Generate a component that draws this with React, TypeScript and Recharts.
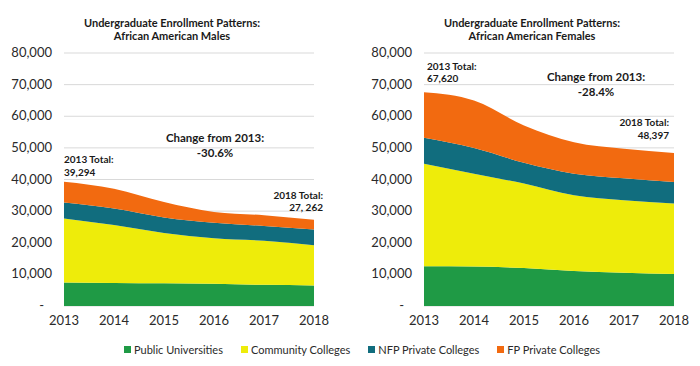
import React from "react";
import { AreaChart, Area, XAxis, YAxis, CartesianGrid } from "recharts";

const years = ["2013", "2014", "2015", "2016", "2017", "2018"];
const yTicks = [0, 10000, 20000, 30000, 40000, 50000, 60000, 70000, 80000];

const malePublic = [7400, 7300, 7200, 7000, 6700, 6500];
const maleCommunity = [20300, 18300, 15900, 14400, 13900, 12700];
const maleNFP = [5000, 5200, 4900, 4900, 4700, 5000];
const maleFP = [6594, 6300, 4900, 3450, 3400, 3062];

const femalePublic = [12600, 12500, 12000, 11100, 10500, 10100];
const femaleCommunity = [32400, 29350, 26700, 23900, 22900, 22300];
const femaleNFP = [8200, 8100, 6600, 6850, 7000, 6800];
const femaleFP = [14420, 15050, 11800, 9950, 9350, 9197];

const seriesNames = ["Public Universities", "Community Colleges", "NFP Private Colleges", "FP Private Colleges"];
const seriesKeys = ["pub", "cc", "nfp", "fp"];
const colors = ["#1f9a45", "#eeec0a", "#116d7e", "#f26a10"];

const build = (a: number[], b: number[], c: number[], d: number[]) =>
  years.map((y, i) => ({ year: y, pub: a[i], cc: b[i], nfp: c[i], fp: d[i] }));

const maleData = build(malePublic, maleCommunity, maleNFP, maleFP);
const femaleData = build(femalePublic, femaleCommunity, femaleNFP, femaleFP);

const FONT = "Lato, 'DejaVu Sans', sans-serif";

const YTick = (props: any) => {
  const { x, y, payload } = props;
  const v = payload.value;
  const label = v === 0 ? "-" : v.toLocaleString("en-US");
  return (
    <text x={v === 0 ? x - 8 : x} y={y} dy={4} textAnchor="end" fontSize={13} fill="#2a2a2a" fontFamily={FONT}>
      {label}
    </text>
  );
};

const Chart = ({ data }: { data: any[] }) => (
  <AreaChart width={340} height={340} data={data} margin={{ top: 53, right: 26, bottom: 4, left: 0 }}>
    <CartesianGrid vertical={false} stroke="#d9d9d9" />
    <XAxis
      dataKey="year"
      axisLine={false}
      tickLine={false}
      height={30}
      tickMargin={4}
      padding={{ left: 0, right: 0 }}
      tick={{ fontSize: 13, fill: "#2a2a2a", fontFamily: FONT }}
      interval={0}
    />
    <YAxis
      width={64}
      domain={[0, 80000]}
      ticks={yTicks}
      axisLine={false}
      tickLine={false}
      tickMargin={6}
      tick={<YTick />}
      interval={0}
    />
    {seriesKeys.map((k, i) => (
      <Area
        key={k}
        type="monotone"
        dataKey={k}
        stackId="1"
        stroke="none"
        fill={colors[i]}
        fillOpacity={1}
        isAnimationActive={false}
      />
    ))}
  </AreaChart>
);

const abs = (left: number, top: number, extra: React.CSSProperties = {}): React.CSSProperties => ({
  position: "absolute",
  left,
  top,
  fontFamily: FONT,
  fontWeight: 700,
  color: "#1a1a1a",
  whiteSpace: "nowrap",
  ...extra,
});

export default function App() {
  return (
    <div style={{ position: "absolute", left: 0, top: 0, width: 700, height: 366, background: "#fff", overflow: "hidden", fontFamily: FONT }}>
      <div style={{ position: "absolute", left: 0, top: 0 }}>
        <Chart data={maleData} />
      </div>
      <div style={{ position: "absolute", left: 360, top: 0 }}>
        <Chart data={femaleData} />
      </div>

      {/* Titles */}
      <div style={abs(72, 16, { width: 200, textAlign: "center", fontSize: 11, lineHeight: "13px" })}>
        Undergraduate Enrollment Patterns:
        <br />
        African American Males
      </div>
      <div style={abs(432, 16, { width: 200, textAlign: "center", fontSize: 11, lineHeight: "13px" })}>
        Undergraduate Enrollment Patterns:
        <br />
        African American Females
      </div>

      {/* Left annotations */}
      <div style={abs(155, 130, { width: 120, textAlign: "center", fontSize: 11.5, lineHeight: "15px" })}>
        Change from 2013:
        <br />
        -30.6%
      </div>
      <div style={abs(64, 153, { fontSize: 10, lineHeight: "13px" })}>
        2013 Total:
        <br />
        39,294
      </div>
      <div style={abs(223, 189, { width: 100, textAlign: "right", fontSize: 10, lineHeight: "12px" })}>
        2018 Total:
        <br />
        27, 262
      </div>

      {/* Right annotations */}
      <div style={abs(427, 60, { fontSize: 10, lineHeight: "12px" })}>
        2013 Total:
        <br />
        67,620
      </div>
      <div style={abs(536, 69, { width: 120, textAlign: "center", fontSize: 11.5, lineHeight: "15px" })}>
        Change from 2013:
        <br />
        -28.4%
      </div>
      <div style={abs(569, 116, { width: 100, textAlign: "right", fontSize: 10, lineHeight: "13px" })}>
        2018 Total:
        <br />
        48,397
      </div>

      {/* Legend */}
      <div style={{ position: "absolute", left: 0, top: 341, width: 724, height: 16, display: "flex", justifyContent: "center", gap: 18 }}>
        {seriesNames.map((name, i) => (
          <div key={i} style={{ display: "flex", alignItems: "center", height: 16, fontFamily: FONT, fontSize: 11, color: "#2a2a2a", whiteSpace: "nowrap" }}>
            <span style={{ display: "inline-block", width: 7, height: 7, background: colors[i], marginRight: 3 }} />
            {name}
          </div>
        ))}
      </div>
    </div>
  );
}
